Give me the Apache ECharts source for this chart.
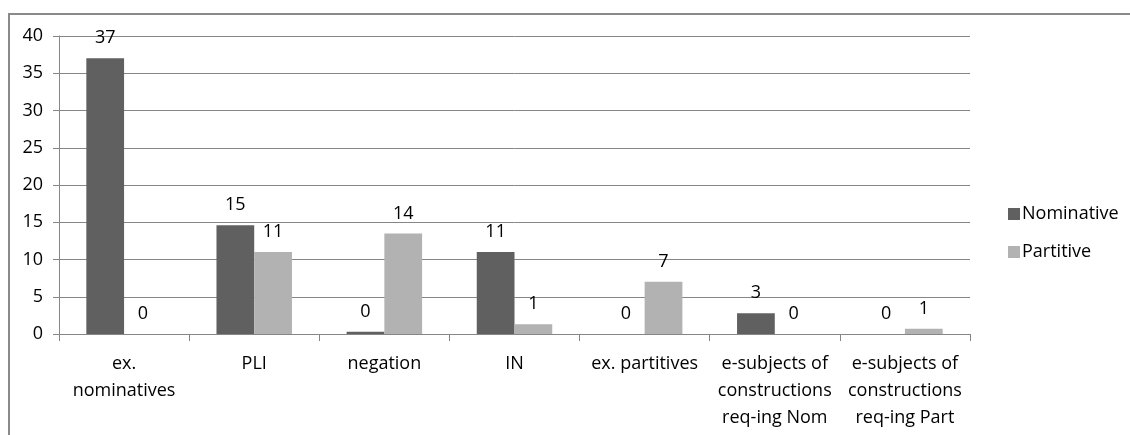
<!DOCTYPE html>
<html>
<head>
<meta charset="utf-8">
<script src="https://cdn.jsdelivr.net/npm/echarts@6/dist/echarts.min.js"></script>
<style>
html,body{margin:0;padding:0;background:#fff;}
#c{width:1130px;height:435px;}
</style>
</head>
<body>
<div id="c"></div>
<script>
var categories = ['ex.\nnominatives', 'PLI', 'negation', 'IN', 'ex. partitives', 'e-subjects of\nconstructions\nreq-ing Nom', 'e-subjects of\nconstructions\nreq-ing Part'];
var nominative = [37, 14.6, 0.3, 11, 0, 2.8, 0];
var partitive = [0, 11, 13.5, 1.3, 7, 0, 0.7];
var yTicks = [0, 5, 10, 15, 20, 25, 30, 35, 40];

var FONT = 'Open Sans';
var TEXT = '#000';
var chart = echarts.init(document.getElementById('c'), null, {renderer: 'canvas'});
var labelCfg = {
  show: true,
  position: 'top',
  distance: 11,
  color: TEXT,
  fontFamily: FONT,
  fontSize: 18,
  formatter: function (p) { return String(Math.round(p.value)); }
};
chart.setOption({
  backgroundColor: '#fff',
  animation: false,
  textStyle: {fontFamily: FONT},
  graphic: [{
    type: 'rect',
    shape: {x: 9, y: 14, width: 2000, height: 1000},
    style: {fill: 'none', stroke: '#8a8a8a', lineWidth: 2},
    silent: true,
    z: -10
  }],
  grid: {left: 59, right: 160, top: 36, bottom: 101, containLabel: false},
  legend: {
    orient: 'vertical',
    left: 1003,
    top: 199,
    itemWidth: 12,
    itemHeight: 12,
    itemGap: 18,
    icon: 'rect',
    textStyle: {fontFamily: FONT, fontSize: 18, color: TEXT, lineHeight: 20, padding: [0, 0, 0, -3]},
    data: ['Nominative', 'Partitive']
  },
  xAxis: {
    type: 'category',
    data: categories,
    axisLine: {lineStyle: {color: '#868686', width: 1}},
    axisTick: {show: true, length: 7, lineStyle: {color: '#868686'}},
    axisLabel: {interval: 0, margin: 16, color: TEXT, fontFamily: FONT, fontSize: 18, lineHeight: 27}
  },
  yAxis: {
    type: 'value',
    min: yTicks[0],
    max: yTicks[yTicks.length - 1],
    interval: 5,
    axisLine: {show: true, lineStyle: {color: '#868686', width: 1}},
    axisTick: {show: true, inside: false, length: 6, lineStyle: {color: '#868686'}},
    splitLine: {show: true, lineStyle: {color: '#868686', width: 1}},
    axisLabel: {margin: 16, color: TEXT, fontFamily: FONT, fontSize: 18}
  },
  series: [{
    name: 'Nominative',
    type: 'bar',
    data: nominative,
    itemStyle: {color: '#606060'},
    barGap: '0%',
    barCategoryGap: '42%',
    label: labelCfg
  }, {
    name: 'Partitive',
    type: 'bar',
    data: partitive,
    itemStyle: {color: '#b2b2b2'},
    barGap: '0%',
    barCategoryGap: '42%',
    label: labelCfg
  }]
});
</script>
</body>
</html>
